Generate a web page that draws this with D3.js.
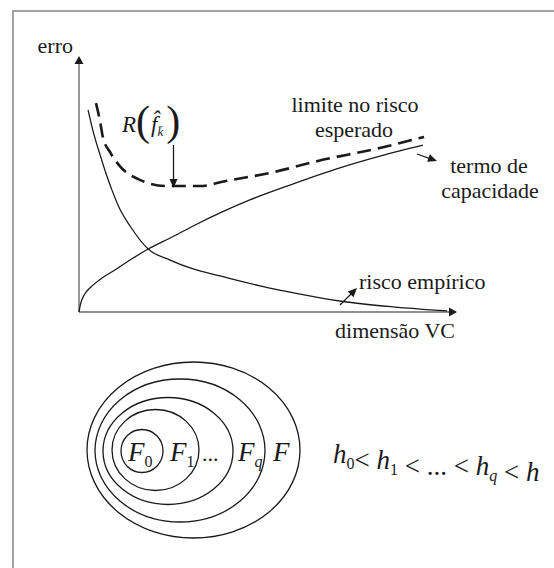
<!DOCTYPE html>
<html>
<head>
<meta charset="utf-8">
<script src="https://cdn.jsdelivr.net/npm/d3@7"></script>
</head>
<body style="margin:0">
<svg id="s" width="554" height="568"></svg>
<script>
// Schematic curves: (VC dimension, error) in arbitrary units 0..100
const capacityTerm = [
  [0, 0], [0.4, 3.1], [1.1, 5.9], [2.1, 8.2], [3.7, 10.5], [6.1, 13.3],
  [9.5, 16.4], [13.5, 20.3], [18.3, 24.6], [24.1, 28.9], [30.2, 33.6],
  [37.3, 38.7], [45.2, 43.8], [55.8, 49.6], [69.0, 56.3], [79.6, 60.9], [91.0, 65.2]
];
const empiricalRisk = [
  [2.4, 78.9], [4.0, 69.1], [5.6, 61.3], [7.1, 54.3], [8.7, 47.7], [10.8, 40.2],
  [13.5, 33.6], [18.3, 24.6], [24.1, 20.3], [30.2, 16.8], [37.3, 14.1],
  [47.9, 10.2], [58.5, 7.0], [69.0, 4.3], [83.1, 2.0], [97.4, 0.4]
];
const riskBound = [
  [4.5, 81.6], [5.6, 74.2], [6.3, 68.4], [8.2, 62.5], [10.8, 57.0], [16.1, 51.6],
  [23.3, 49.2], [32.0, 49.2], [38.9, 51.2], [50.5, 54.3], [63.2, 59.0],
  [79.6, 64.1], [91.3, 68.4]
];
// Point of minimum bound, marked by R(f̂_k̄)
const boundMinimum = [25.0, 49.0];

const axisLabels = { y: "erro", x: "dimensão VC" };
const curveLabels = {
  bound: ["limite no risco", "esperado"],
  capacity: ["termo de", "capacidade"],
  empirical: "risco empírico"
};
// Nested function classes, innermost first
const setLabels = [
  { main: "F", sub: "0" },
  { main: "F", sub: "1" },
  { main: "...", sub: "" },
  { main: "F", sub: "q" },
  { main: "F", sub: "" }
];
const orderTerms = [
  { main: "h", sub: "0" }, { main: "h", sub: "1" }, { main: "...", sub: "" },
  { main: "h", sub: "q" }, { main: "h", sub: "" }
];

const ink = "#1a1a1a";
const face = "Liberation Serif";
const svg = d3.select("#s");

// every text gets the serif face directly
function txt(g, size) {
  return g.append("text").attr("font-size", size)
    .style("font-family", `"${face}"`).attr("fill", ink);
}

// frame
svg.append("rect")
  .attr("x", 13).attr("y", 11).attr("width", 600).attr("height", 600)
  .attr("fill", "none").attr("stroke", "#8c8c8c").attr("stroke-width", 1.6);

const x = d3.scaleLinear().domain([0, 100]).range([79, 457]);
const y = d3.scaleLinear().domain([0, 100]).range([312, 56]);

// filled triangular head with tip at (tx,ty), pointing along ang
function arrowHead(g, tx, ty, ang, len, half) {
  const bx = tx - len * Math.cos(ang), by = ty - len * Math.sin(ang);
  const px = -Math.sin(ang) * half, py = Math.cos(ang) * half;
  g.append("path")
    .attr("d", `M${tx},${ty}L${bx + px},${by + py}L${bx - px},${by - py}Z`)
    .attr("fill", ink);
}
function arrow(g, x1, y1, x2, y2, w) {
  const ang = Math.atan2(y2 - y1, x2 - x1);
  g.append("line").attr("x1", x1).attr("y1", y1)
    .attr("x2", x2 - 6 * Math.cos(ang)).attr("y2", y2 - 6 * Math.sin(ang))
    .attr("stroke", ink).attr("stroke-width", w || 1.3);
  arrowHead(g, x2, y2, ang, 9, 4);
}

// axes
const axes = svg.append("g");
axes.append("line").attr("x1", x(0)).attr("y1", y(0)).attr("x2", x(0)).attr("y2", y(100) + 6)
  .attr("stroke", "#6a6a6a").attr("stroke-width", 1.4);
axes.append("line").attr("x1", x(0)).attr("y1", y(0)).attr("x2", x(100) - 6).attr("y2", y(0))
  .attr("stroke", "#6a6a6a").attr("stroke-width", 1.4);
arrowHead(axes, x(0), y(100), -Math.PI / 2, 8, 4.5);
arrowHead(axes, x(100), y(0), 0, 8, 4.5);

txt(axes, 22).attr("x", 73).attr("y", 53).attr("text-anchor", "end").text(axisLabels.y);
txt(axes, 22).attr("x", 455).attr("y", 338).attr("text-anchor", "end").text(axisLabels.x);

// curves
const line = d3.line().x(d => x(d[0])).y(d => y(d[1])).curve(d3.curveMonotoneX);
svg.append("path").attr("d", line(capacityTerm)).attr("fill", "none")
  .attr("stroke", ink).attr("stroke-width", 1.3);
svg.append("path").attr("d", line(empiricalRisk)).attr("fill", "none")
  .attr("stroke", ink).attr("stroke-width", 1.3);
svg.append("path").attr("d", line(riskBound)).attr("fill", "none")
  .attr("stroke", ink).attr("stroke-width", 2.6).attr("stroke-dasharray", "14,7");

// curve annotations
const ann = svg.append("g");
txt(ann, 22).attr("x", 355).attr("y", 112).attr("text-anchor", "middle").text(curveLabels.bound[0]);
txt(ann, 22).attr("x", 354).attr("y", 137).attr("text-anchor", "middle").text(curveLabels.bound[1]);
txt(ann, 22).attr("x", 489).attr("y", 173).attr("text-anchor", "middle").text(curveLabels.capacity[0]);
txt(ann, 22).attr("x", 490).attr("y", 198).attr("text-anchor", "middle").text(curveLabels.capacity[1]);
arrow(ann, 417, 154, 437, 161);

txt(ann, 22).attr("x", 359).attr("y", 289).text(curveLabels.empirical);
arrow(ann, 340, 305, 357, 288);

// R(f̂_k̄) marker
const rt = txt(ann, 23).attr("x", 122).attr("y", 132);
rt.append("tspan").attr("font-style", "italic").text("R");
rt.append("tspan").attr("font-size", 42).attr("dy", 3).text("(");
rt.append("tspan").attr("font-style", "italic").attr("dy", -3).attr("dx", 1).text("f\u0302");
rt.append("tspan").attr("font-style", "italic").attr("font-size", 13).attr("dy", 4).text("k\u0304");
rt.append("tspan").attr("font-size", 42).attr("dy", -1).attr("dx", 3).text(")");
arrow(ann, x(boundMinimum[0]), 145, x(boundMinimum[0]), y(boundMinimum[1]) + 1.5, 1.3);

// nested classes F0 ⊂ F1 ⊂ ... ⊂ Fq ⊂ F
const nest = svg.append("g");
const rings = [
  { cx: 142, cy: 451, rx: 21, ry: 21.5 },
  { cx: 155.5, cy: 450, rx: 43.5, ry: 40.5 },
  { cx: 168, cy: 451, rx: 65, ry: 53.5 },
  { cx: 180, cy: 450.5, rx: 85, ry: 71.5 },
  { cx: 193.5, cy: 450, rx: 106.5, ry: 88 }
];
const labelX = [128, 170, 202, 238, 273];
nest.selectAll("ellipse").data(rings).join("ellipse")
  .attr("cx", d => d.cx).attr("cy", d => d.cy).attr("rx", d => d.rx).attr("ry", d => d.ry)
  .attr("fill", "none").attr("stroke", ink).attr("stroke-width", 1.3);

setLabels.forEach((s, i) => {
  const t = txt(nest, 27).attr("x", labelX[i]).attr("y", 461);
  if (s.main === "...") {
    t.attr("font-size", 22).text("...");
  } else {
    t.append("tspan").attr("font-style", "italic").text(s.main);
    if (s.sub) t.append("tspan").attr("font-size", 16).attr("dy", 6)
      .attr("font-style", s.sub === "q" ? "italic" : "normal").text(s.sub);
  }
});

// ordering of capacities
const ord = txt(svg, 27).attr("x", 333).attr("y", 463);
orderTerms.forEach((h, i) => {
  if (i > 0) ord.append("tspan").text(i === 1 ? "< " : " < ");
  if (h.main === "...") { ord.append("tspan").text("..."); return; }
  ord.append("tspan").attr("font-style", "italic").text(h.main);
  if (h.sub) {
    ord.append("tspan").attr("font-size", 16).attr("dy", 6)
      .attr("font-style", h.sub === "q" ? "italic" : "normal").text(h.sub);
    ord.append("tspan").attr("dy", -6).text("");
  }
});
</script>
</body>
</html>
